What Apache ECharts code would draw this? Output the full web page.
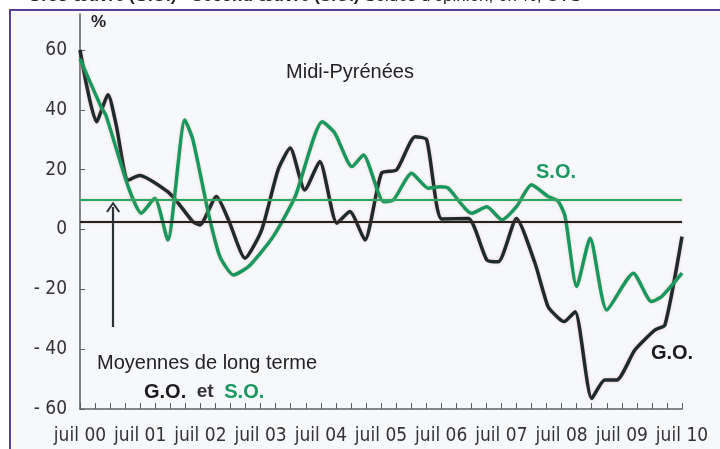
<!DOCTYPE html>
<html>
<head>
<meta charset="utf-8">
<script src="https://cdn.jsdelivr.net/npm/echarts@6.0.0/dist/echarts.min.js"></script>
<style>
  html, body { margin: 0; padding: 0; background: #fff; }
  #chart { width: 720px; height: 449px; }
</style>
</head>
<body>
<div id="chart"></div>
<script>
// months since juil 00, balance of opinion in %
const goPoints = [
  [0, 60], [3.3, 36], [5.6, 45], [7.2, 35], [9.6, 16.5], [11.9, 18], [17.5, 12.6],
  [19.5, 9], [22.5, 2.6], [23.9, 1.5], [27.2, 11], [29.6, 3.2], [32.9, -9.6],
  [36.2, -0.2], [39.5, 20], [41.9, 27.2], [44.8, 13.2], [47.8, 22.7], [51.2, 2.1],
  [53.8, 6], [56.8, -3.5], [60.1, 18.8], [63.1, 19.9], [66.8, 31], [69.1, 30],
  [72.1, 3.5], [77.4, 3.7], [81.1, -10.2], [83.4, -10.8], [87, 3.7], [90.7, -11.3],
  [93.3, -25.8], [95.3, -29.5], [96.5, -30.8], [98.7, -27.5], [102, -56.5],
  [104.6, -50.3], [107, -50.3], [110.6, -40.3], [114.6, -33.6], [116.6, -31.9], [120, -2.4]
];
const soPoints = [
  [0, 57], [4.2, 41], [5.2, 38], [9.6, 14.3], [12.2, 5.4], [14.9, 10.4], [17.5, -3.5],
  [20.9, 36.6], [22.5, 30], [25.6, 5.4], [27.9, -9.1], [30.6, -15.2], [33.6, -12.4],
  [38.5, -2.4], [42.9, 11], [48.3, 36], [50.8, 32.2], [54.2, 21], [56.5, 24.9],
  [60.5, 9.3], [62.5, 9.9], [66.1, 18.8], [69.4, 13.8], [71.8, 14.3], [73.4, 13.8],
  [78.1, 5.4], [81.1, 7.6], [84.1, 3.2], [87, 7.6], [90, 14.9], [93.3, 11], [95.3, 9.5],
  [96.7, 4.3], [99, -19.1], [101.7, -2.9], [105, -26.9], [110.3, -14.6], [113.9, -24.1],
  [115.9, -22.5], [120, -14.6]
];
const goAverage = 2.5;
const soAverage = 10;
const arrowFrom = [6.6, -32.6];
const arrowTo = [6.6, 7.5];

const xTickLabels = ['juil 00', 'juil 01', 'juil 02', 'juil 03', 'juil 04', 'juil 05',
  'juil 06', 'juil 07', 'juil 08', 'juil 09', 'juil 10'];
const yTickValues = [-60, -40, -20, 0, 20, 40, 60];
const yTickLabels = ['- 60', '- 40', '- 20', '0', '20', '40', '60'];

const narrow = '"Liberation Sans Narrow", "DejaVu Sans Condensed", sans-serif';
const sans = '"Liberation Sans", Arial, sans-serif';
const dark = '#1e2a2e';
const green = '#17985e';

const chart = echarts.init(document.getElementById('chart'), null, { renderer: 'canvas' });

chart.setOption({
  animation: false,
  backgroundColor: '#ffffff',
  grid: { left: 80, right: 38, top: 14, bottom: 40 },
  xAxis: {
    type: 'value',
    min: 0,
    max: 120,
    interval: 12,
    axisLine: { onZero: false, lineStyle: { color: '#5a5f63', width: 1.5 } },
    axisTick: { inside: true, length: 6, lineStyle: { color: '#5a5f63' } },
    minorTick: { show: true, splitNumber: 4, length: 6, lineStyle: { color: '#5a5f63' } },
    splitLine: { show: false },
    axisLabel: {
      margin: 18,
      color: '#333',
      fontFamily: narrow,
      fontSize: 19,
      formatter: (v) => xTickLabels[Math.round(v / 12)] || ''
    }
  },
  yAxis: {
    type: 'value',
    min: -60,
    max: 72,
    interval: 20,
    axisLine: { show: true, onZero: false, lineStyle: { color: '#5a5f63', width: 1.5 } },
    axisTick: { show: true, inside: true, length: 5, lineStyle: { color: '#5a5f63' } },
    splitLine: { show: false },
    axisLabel: {
      margin: 13,
      color: '#333',
      fontFamily: narrow,
      fontSize: 19,
      showMaxLabel: false,
      formatter: (v) => {
        const i = yTickValues.indexOf(v);
        return i >= 0 ? yTickLabels[i] : '';
      }
    }
  },
  graphic: [
    { type: 'rect', z: -10, shape: { x: 10, y: 10, width: 740, height: 460 },
      style: { fill: '#f7f8fc', stroke: '#5c3f98', lineWidth: 2 } },
    { type: 'text', left: 28, top: -12, z: 10,
      style: {
        text: '{b|Gros œuvre (G.O.) - Second œuvre (S.O.)}{r| Soldes d\'opinion, en %, CVS}',
        rich: {
          b: { fontFamily: sans, fontSize: 17, fontWeight: 'bold', fill: '#222' },
          r: { fontFamily: sans, fontSize: 17, fill: '#222' }
        }
      } },
    { type: 'text', left: 91, top: 14, z: 10,
      style: { text: '%', fontFamily: sans, fontSize: 17, fontWeight: 'bold', fill: '#222' } },
    { type: 'text', x: 350, y: 72, z: 10,
      style: { text: 'Midi-Pyrénées', fontFamily: sans, fontSize: 20, fill: '#222',
        align: 'center', verticalAlign: 'middle' } },
    { type: 'text', x: 556, y: 172, z: 10,
      style: { text: 'S.O.', fontFamily: sans, fontSize: 20, fontWeight: 'bold', fill: green,
        align: 'center', verticalAlign: 'middle' } },
    { type: 'text', x: 672, y: 353, z: 10,
      style: { text: 'G.O.', fontFamily: sans, fontSize: 20, fontWeight: 'bold', fill: '#1a1a1a',
        align: 'center', verticalAlign: 'middle' } },
    { type: 'text', x: 97, y: 363, z: 10,
      style: { text: 'Moyennes de long terme', fontFamily: sans, fontSize: 20, fill: '#222',
        align: 'left', verticalAlign: 'middle' } },
    { type: 'text', x: 144, y: 392, z: 10,
      style: {
        text: '{g|G.O.}{e|  et  }{s|S.O.}',
        verticalAlign: 'middle',
        rich: {
          g: { fontFamily: sans, fontSize: 20, fontWeight: 'bold', fill: '#1a1a1a' },
          e: { fontFamily: sans, fontSize: 19, fontWeight: 'bold', fill: '#333' },
          s: { fontFamily: sans, fontSize: 20, fontWeight: 'bold', fill: green }
        }
      } }
  ],
  series: [
    {
      name: 'G.O.',
      type: 'line',
      data: goPoints,
      showSymbol: false,
      smooth: 0.2,
      z: 3,
      lineStyle: { color: dark, width: 3.5, shadowBlur: 3, shadowColor: 'rgba(220,120,100,0.35)' },
      markLine: {
        silent: true,
        symbol: 'none',
        label: { show: false },
        data: [
          { yAxis: goAverage, lineStyle: { color: '#222', width: 2, type: 'solid',
            shadowBlur: 2, shadowColor: 'rgba(200,100,70,0.5)' } },
          [
            { coord: arrowFrom, symbol: 'none',
              lineStyle: { color: '#2a3236', width: 2.2, type: 'solid' } },
            { coord: arrowTo, symbol: 'path://M0,11 L7,0 L14,11 L12.2,12 L7,3.6 L1.8,12 Z',
              symbolSize: [14, 11] }
          ]
        ]
      }
    },
    {
      name: 'S.O.',
      type: 'line',
      data: soPoints,
      showSymbol: false,
      smooth: 0.2,
      z: 4,
      lineStyle: { color: green, width: 3.5, shadowBlur: 3, shadowColor: 'rgba(220,150,90,0.35)' },
      markLine: {
        silent: true,
        symbol: 'none',
        label: { show: false },
        data: [
          { yAxis: soAverage, lineStyle: { color: '#2ba36c', width: 2, type: 'solid',
            shadowBlur: 2, shadowColor: 'rgba(220,200,60,0.6)' } }
        ]
      }
    }
  ]
});

window.addEventListener('resize', () => chart.resize());
</script>
</body>
</html>
